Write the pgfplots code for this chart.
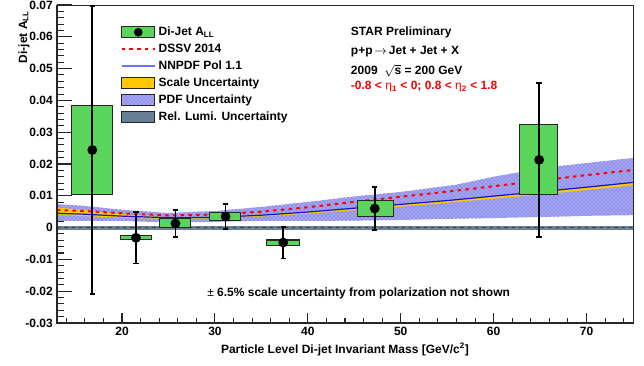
\documentclass[border=0pt]{standalone}
\usepackage{pgfplots}
\pgfplotsset{compat=1.18}
\usepackage{pgfplotstable}
\usepgfplotslibrary{fillbetween}
\usetikzlibrary{patterns}
\usepackage{fontspec}
\setmainfont{Liberation Sans}
\definecolor{jetgreen}{RGB}{90,212,90}
\definecolor{scaleyel}{RGB}{255,200,0}
\definecolor{pdfblue}{RGB}{168,168,240}
\definecolor{pdfdots}{RGB}{60,60,225}
\definecolor{lumigray}{RGB}{104,128,150}
\definecolor{nnblue}{RGB}{20,20,210}
\definecolor{nnleg}{RGB}{110,110,255}

\pgfplotstableread{
x   lo      hi
13  0.0021  0.0074
16  0.0021  0.0068
20  0.0021  0.0056
25  0.0016  0.0046
30  0.0018  0.0052
35  0.0021  0.0065
41  0.0021  0.0084
45  0.0022  0.0098
50  0.0024  0.0112
56  0.0028  0.0135
60  0.0030  0.0160
66  0.0034  0.0190
70  0.0037  0.0203
75  0.0039  0.0219
}\pdfband

\pgfplotstableread{
x   lo      hi
13  0.0040  0.0063
16  0.0036  0.0055
20  0.0031  0.0042
25  0.0027  0.0033
30  0.0029  0.0034
35  0.0035  0.0041
40  0.0044  0.0050
45  0.0055  0.0061
50  0.0066  0.0072
55  0.0078  0.0084
60  0.0091  0.0097
65  0.0104  0.0111
70  0.0118  0.0126
75  0.0133  0.0141
}\scaleband

\pgfplotstableread{
x   nnpdf   dssv
13  0.0045  0.0055
16  0.0042  0.0052
20  0.0036  0.0045
25  0.0031  0.0038
30  0.0032  0.0041
35  0.0039  0.0050
40  0.0049  0.0064
45  0.0061  0.0081
50  0.0073  0.0097
55  0.0085  0.0113
60  0.0099  0.0130
65  0.0113  0.0148
70  0.0127  0.0165
75  0.0142  0.0181
}\theory

\pgfplotstableread{
x      y        e
16.8   0.0244   0.0452
21.5  -0.0032   0.0081
25.75  0.0013   0.0043
31.15  0.0035   0.0040
37.35 -0.0047   0.0050
47.2   0.0060   0.0068
64.9   0.0213   0.0242
}\dijet

\begin{document}
\fontsize{9}{11}\selectfont\bfseries
\begin{tikzpicture}
\begin{axis}[
  at={(0pt,0pt)}, anchor=south west,
  scale only axis, width=432pt, height=238.5pt,
  xmin=13, xmax=75, ymin=-0.03, ymax=0.07,
  xtick={20,30,40,50,60,70}, xticklabels={20,30,40,50,60,70},
  minor xtick={14,16,18,22,24,26,28,32,34,36,38,42,44,46,48,52,54,56,58,62,64,66,68,72,74},
  ytick={-0.03,-0.02,-0.01,0,0.01,0.02,0.03,0.04,0.05,0.06,0.07},
  yticklabels={-0.03,-0.02,-0.01,0,0.01,0.02,0.03,0.04,0.05,0.06,0.07},
  minor ytick={-0.028,-0.026,-0.024,-0.022,-0.018,-0.016,-0.014,-0.012,-0.008,-0.006,-0.004,-0.002,0.002,0.004,0.006,0.008,0.012,0.014,0.016,0.018,0.022,0.024,0.026,0.028,0.032,0.034,0.036,0.038,0.042,0.044,0.046,0.048,0.052,0.054,0.056,0.058,0.062,0.064,0.066,0.068},
  xtick pos=bottom, ytick pos=left,
  tick align=inside,
  major tick length=7.5pt, minor tick length=3.5pt,
  ytick style={/pgfplots/major tick length=11pt,/pgfplots/minor tick length=5pt},
  tick style={line width=0.8pt, black!85},
  axis line style={line width=0.6pt, black!85},
  xlabel={Particle Level Di-jet Invariant Mass [GeV/c\textsuperscript{2}]},
  ylabel={Di-jet A\textsubscript{LL}},
  xlabel style={at={(rel axis cs:0.5,0)}, anchor=north, yshift=-12pt},
  ylabel style={at={(rel axis cs:-0.052,0.995)}, anchor=base east},
  legend style={at={(rel axis cs:0.11,0.94)}, anchor=north west, draw=none, fill=none,
    row sep=0.9pt, inner sep=0pt, legend cell align=left},
  after end axis/.code={
    \draw[line width=1.4pt, black!85] (rel axis cs:0,1) -- (rel axis cs:0,0) -- (rel axis cs:1,0);
  },
]
% PDF uncertainty band
\addplot[name path=pdfhi, draw=none, forget plot] table[x=x,y=hi]{\pdfband};
\addplot[name path=pdflo, draw=none, forget plot] table[x=x,y=lo]{\pdfband};
\addplot[fill=pdfblue, postaction={pattern=crosshatch dots, pattern color=pdfdots}, forget plot] fill between[of=pdfhi and pdflo];
% Scale uncertainty band
\addplot[name path=schi, draw=none, forget plot] table[x=x,y=hi]{\scaleband};
\addplot[name path=sclo, draw=none, forget plot] table[x=x,y=lo]{\scaleband};
\addplot[fill=scaleyel, forget plot] fill between[of=schi and sclo];
% theory curves
\addplot[nnblue, line width=0.9pt, forget plot] table[x=x,y=nnpdf]{\theory};
\addplot[red, line width=1.5pt, dash pattern=on 2.6pt off 3.2pt, forget plot] table[x=x,y=dssv]{\theory};
% relative luminosity band
\addplot[fill=lumigray, draw=none, forget plot] coordinates {(13,-0.0006) (75,-0.0006) (75,0.0006) (13,0.0006)} -- cycle;
\addplot[black!75, line width=1pt, dash pattern=on 2.5pt off 3pt, forget plot] coordinates {(13,0) (75,0)};
% systematic boxes
\addplot[fill=jetgreen, draw=black!85, line width=0.8pt, forget plot] coordinates {(14.6,0.0105) (19.0,0.0105) (19.0,0.0384) (14.6,0.0384)} -- cycle;
\addplot[fill=jetgreen, draw=black!85, line width=0.8pt, forget plot] coordinates {(19.85,-0.0038) (23.2,-0.0038) (23.2,-0.0025) (19.85,-0.0025)} -- cycle;
\addplot[fill=jetgreen, draw=black!85, line width=0.8pt, forget plot] coordinates {(24.0,0.0000) (27.4,0.0000) (27.4,0.0029) (24.0,0.0029)} -- cycle;
\addplot[fill=jetgreen, draw=black!85, line width=0.8pt, forget plot] coordinates {(29.4,0.0021) (32.8,0.0021) (32.8,0.0047) (29.4,0.0047)} -- cycle;
\addplot[fill=jetgreen, draw=black!85, line width=0.8pt, forget plot] coordinates {(35.6,-0.0056) (39.1,-0.0056) (39.1,-0.0039) (35.6,-0.0039)} -- cycle;
\addplot[fill=jetgreen, draw=black!85, line width=0.8pt, forget plot] coordinates {(45.3,0.0035) (49.2,0.0035) (49.2,0.0086) (45.3,0.0086)} -- cycle;
\addplot[fill=jetgreen, draw=black!85, line width=0.8pt, forget plot] coordinates {(62.8,0.0105) (66.9,0.0105) (66.9,0.0323) (62.8,0.0323)} -- cycle;
% data points
\addplot[only marks, mark=*, mark size=3pt, black, line width=1.3pt, forget plot,
  error bars/.cd, y dir=both, y explicit,
  error bar style={line width=1.3pt, black},
  error mark options={rotate=90, mark size=2pt, line width=1.3pt}]
  table[x=x, y=y, y error=e]{\dijet};
% legend
\addlegendimage{legend image code/.code={\draw[fill=jetgreen,draw=black!85,line width=0.8pt] (0pt,-4pt) rectangle (25pt,4pt); \fill[black] (12.5pt,0pt) circle (3pt);}}
\addlegendentry{Di-Jet A\textsubscript{LL}}
\addlegendimage{legend image code/.code={\draw[red, line width=1.5pt, dash pattern=on 2.6pt off 3.2pt] (0pt,0pt) -- (25pt,0pt);}}
\addlegendentry{DSSV 2014}
\addlegendimage{legend image code/.code={\draw[nnleg, line width=1.1pt] (0pt,0pt) -- (25pt,0pt);}}
\addlegendentry{NNPDF Pol 1.1}
\addlegendimage{legend image code/.code={\draw[fill=scaleyel,draw=black!85,line width=0.8pt] (0pt,-4pt) rectangle (25pt,4pt);}}
\addlegendentry{Scale Uncertainty}
\addlegendimage{legend image code/.code={\draw[fill=pdfblue,draw=black!85,line width=0.8pt, postaction={pattern=crosshatch dots, pattern color=pdfdots}] (0pt,-4pt) rectangle (25pt,4pt);}}
\addlegendentry{PDF Uncertainty}
\addlegendimage{legend image code/.code={\draw[fill=lumigray,draw=black!85,line width=0.8pt] (0pt,-4pt) rectangle (25pt,4pt);}}
\addlegendentry{Rel. Lumi. Uncertainty}
% annotations
\node[anchor=base west] at (rel axis cs:0.503,0.904) {STAR Preliminary};
\node[anchor=base west] at (rel axis cs:0.503,0.843) {p+p\,{\mdseries$\rightarrow$}\,Jet + Jet + X};
\node[anchor=base west] at (rel axis cs:0.503,0.780) {2009 \ $\sqrt{\mbox{s}}$ = 200 GeV};
\node[anchor=base west, red] at (rel axis cs:0.503,0.733) {-0.8 < {\mdseries η}\textsubscript{1} < 0; 0.8 < {\mdseries η}\textsubscript{2} < 1.8};
\node[anchor=base west] at (rel axis cs:0.2535,0.083) {{\mdseries ±} 6.5\% scale uncertainty from polarization not shown};
\end{axis}
\pgfresetboundingbox
\path[use as bounding box] (-42.75pt,-32.25pt) rectangle (440.25pt,242.25pt);
\end{tikzpicture}
\end{document}
